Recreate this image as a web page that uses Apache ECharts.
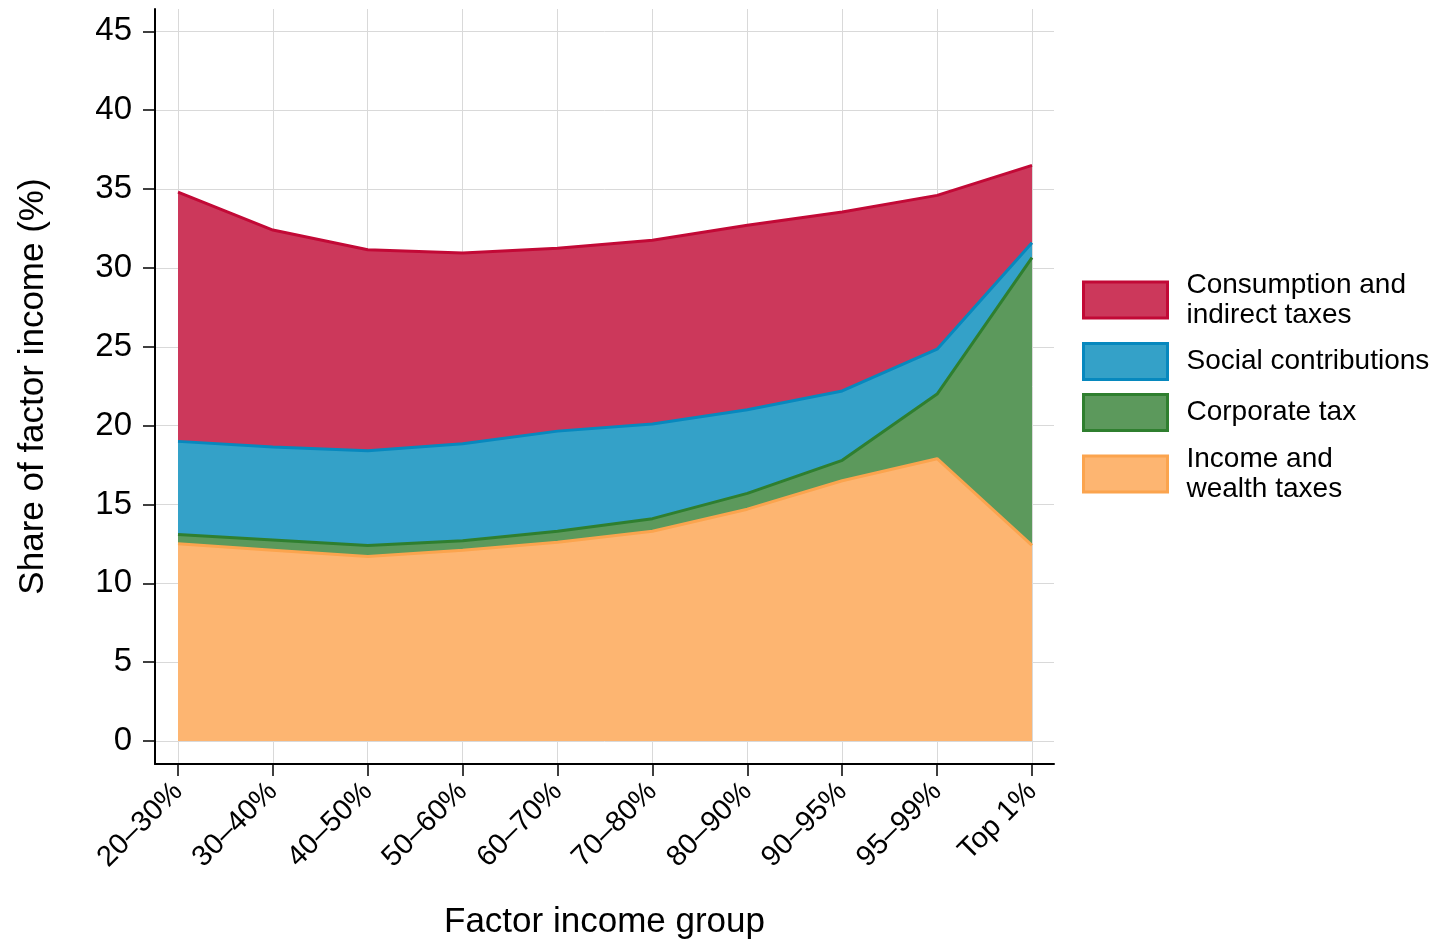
<!DOCTYPE html>
<html>
<head>
<meta charset="utf-8">
<script src="https://cdn.jsdelivr.net/npm/echarts@6/dist/echarts.min.js"></script>
<style>html,body{margin:0;padding:0;background:#fff}#c{width:1444px;height:940px}</style>
</head>
<body>
<div id="c"></div>
<script>
const categories = ['20–30%','30–40%','40–50%','50–60%','60–70%','70–80%','80–90%','90–95%','95–99%','Top 1%'];
const incomeWealth = [12.5, 12.1, 11.7, 12.1, 12.6, 13.3, 14.7, 16.5, 17.9, 12.4];
const corporate    = [0.6, 0.65, 0.7, 0.6, 0.7, 0.8, 1.0, 1.3, 4.1, 18.25];
const social       = [5.9, 5.9, 6.0, 6.15, 6.35, 6.0, 5.3, 4.4, 2.85, 0.95];
const consumption  = [15.8, 13.75, 12.75, 12.1, 11.6, 11.65, 11.7, 11.35, 9.75, 4.9];
const yTicks = [0, 5, 10, 15, 20, 25, 30, 35, 40, 45];
const xTicks = categories.map((c, i) => i);

const seriesDefs = [
  {name: 'Income and\nwealth taxes', data: incomeWealth, fill: '#fdb571', stroke: '#fba44e', z: 5},
  {name: 'Corporate tax', data: corporate, fill: '#5c995c', stroke: '#2f7f2f', z: 4},
  {name: 'Social contributions', data: social, fill: '#34a1c8', stroke: '#0788be', z: 3},
  {name: 'Consumption and\nindirect taxes', data: consumption, fill: '#cc385b', stroke: '#c20936', z: 2}
];

const FONT = 'Liberation Sans, Arial, sans-serif';
const Y_MIN = -1.46, Y_MAX = 46.42;
const chart = echarts.init(document.getElementById('c'), null, {renderer: 'canvas'});
chart.setOption({
  animation: false,
  backgroundColor: '#fff',
  grid: [
    {left: 155, right: 390, top: 9, bottom: 176, containLabel: false, outerBoundsMode: 'none'},
    {left: 178, right: 412, top: 9, bottom: 176, containLabel: false, outerBoundsMode: 'none'}
  ],
  xAxis: [{
    gridIndex: 0, type: 'value', min: -0.242, max: 9.232,
    name: 'Factor income group', nameLocation: 'middle', nameGap: 141,
    nameTextStyle: {fontFamily: FONT, fontSize: 35, color: '#000'},
    axisLine: {show: true, onZero: false, lineStyle: {color: '#000', width: 2}},
    axisTick: {show: true, length: 12, lineStyle: {color: '#000', width: 1.5}, customValues: xTicks},
    axisLabel: {customValues: xTicks, rotate: 45, margin: 23, fontFamily: FONT, fontSize: 29, color: '#000',
      formatter: v => categories[Math.round(v)] || ''},
    splitLine: {show: true, lineStyle: {color: '#d9d9d9', width: 1}}
  }, {
    gridIndex: 1, type: 'category', data: categories, boundaryGap: false,
    axisLine: {show: false}, axisTick: {show: false}, axisLabel: {show: false}, splitLine: {show: false}
  }],
  yAxis: [{
    gridIndex: 0, type: 'value', min: Y_MIN, max: Y_MAX,
    name: 'Share of factor income (%)', nameLocation: 'middle', nameGap: 104, nameRotate: 90,
    nameTextStyle: {fontFamily: FONT, fontSize: 35, color: '#000'},
    axisLine: {show: true, onZero: false, lineStyle: {color: '#000', width: 2}},
    axisTick: {show: true, length: 12, lineStyle: {color: '#000', width: 1.5}, customValues: yTicks},
    axisLabel: {customValues: yTicks, margin: 23, fontFamily: FONT, fontSize: 33, color: '#000'},
    splitLine: {show: true, lineStyle: {color: '#d9d9d9', width: 1}}
  }, {
    gridIndex: 1, type: 'value', min: Y_MIN, max: Y_MAX,
    axisLine: {show: false}, axisTick: {show: false}, axisLabel: {show: false}, splitLine: {show: false}
  }],
  legend: {
    orient: 'vertical', left: 1082, top: 270, itemGap: 12, itemWidth: 84, itemHeight: 36, padding: 0,
    icon: 'rect',
    textStyle: {fontFamily: FONT, fontSize: 28, color: '#000', lineHeight: 30, padding: [0, 0, 0, 14]},
    data: seriesDefs.slice().reverse().map(s => ({
      name: s.name, icon: 'rect',
      itemStyle: {color: s.fill, borderColor: s.stroke, borderWidth: 3}
    }))
  },
  series: seriesDefs.map(s => ({
    name: s.name, type: 'line', stack: 'total', z: s.z,
    xAxisIndex: 1, yAxisIndex: 1,
    symbol: 'none', smooth: false,
    data: s.data,
    lineStyle: {color: s.stroke, width: 3},
    itemStyle: {color: s.fill, borderColor: s.stroke},
    areaStyle: {color: s.fill, opacity: 1, origin: 0}
  }))
});
</script>
</body>
</html>
